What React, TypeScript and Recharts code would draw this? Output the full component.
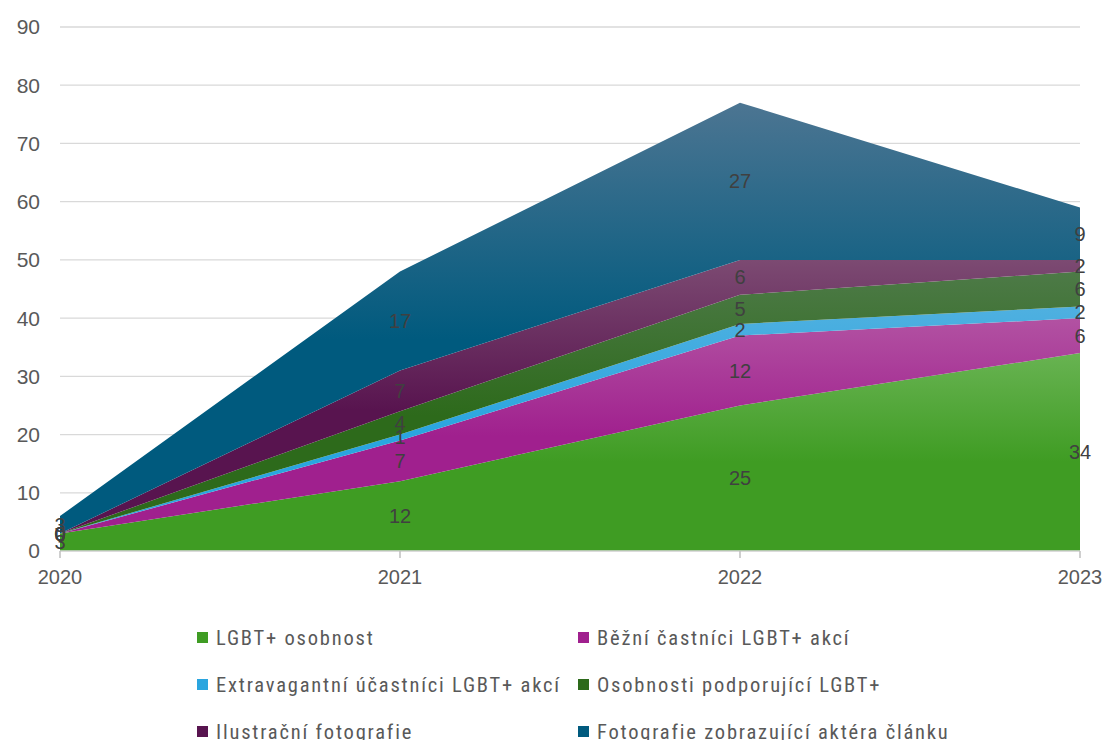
import { AreaChart, Area, XAxis, YAxis, CartesianGrid, LabelList } from "recharts";

const years = ["2020", "2021", "2022", "2023"];
const osobnost = [3, 12, 25, 34];
const bezni = [0, 7, 12, 6];
const extravagantni = [0, 1, 2, 2];
const podporujici = [0, 4, 5, 6];
const ilustracni = [0, 7, 6, 2];
const aktera = [3, 17, 27, 9];
const yTicks = [0, 10, 20, 30, 40, 50, 60, 70, 80, 90];

const series = [
  { key: "osobnost", name: "LGBT+ osobnost", values: osobnost, color: "#3f9c23", top: "#68b352" },
  { key: "bezni", name: "Běžní častníci LGBT+ akcí", values: bezni, color: "#a0208e", top: "#b252a2" },
  { key: "extra", name: "Extravagantní účastníci LGBT+ akcí", values: extravagantni, color: "#2aa5df", top: "#4fb0e0" },
  { key: "podpora", name: "Osobnosti podporující LGBT+", values: podporujici, color: "#2d6a1b", top: "#4d7a47" },
  { key: "ilustr", name: "Ilustrační fotografie", values: ilustracni, color: "#58144f", top: "#7c4a72" },
  { key: "aktera", name: "Fotografie zobrazující aktéra článku", values: aktera, color: "#005a7e", top: "#4c7592" },
];

const data = years.map((year, i) => {
  const row: Record<string, string | number> = { year };
  series.forEach((s) => (row[s.key] = s.values[i]));
  return row;
});

const PLOT_BOTTOM = 551;

// label sits in the middle of its band, using the band top that recharts gives
function bandLabel(si: number) {
  return (props: any) => {
    const { x, y, index } = props;
    if (x == null || y == null || index == null) return null;
    const v = series[si].values[index];
    let cum = 0;
    for (let j = 0; j <= si; j++) cum += series[j].values[index];
    if (cum === 0) return null;
    const k = (PLOT_BOTTOM - y) / cum;
    const cy = PLOT_BOTTOM - (cum - v / 2) * k;
    return (
      <text
        x={x}
        y={cy}
        textAnchor="middle"
        dominantBaseline="central"
        fontSize={20}
        fill="#404040"
        fontFamily="Liberation Sans, Arial, sans-serif"
      >
        {v}
      </text>
    );
  };
}

const legendRows = [
  [series[0], series[1]],
  [series[2], series[3]],
  [series[4], series[5]],
];

export default function App() {
  return (
    <div style={{ position: "absolute", left: 0, top: 0, width: 1107, height: 740, overflow: "hidden", background: "#fff" }}>
      <AreaChart width={1107} height={600} data={data} margin={{ top: 27, right: 27, left: 0, bottom: 9 }}>
        <defs>
          {series.map((s) => (
            <linearGradient key={s.key} id={"g-" + s.key} x1="0" y1="0" x2="0" y2="1">
              <stop offset="0%" stopColor={s.top} />
              <stop offset="55%" stopColor={s.color} />
              <stop offset="100%" stopColor={s.color} />
            </linearGradient>
          ))}
        </defs>
        <CartesianGrid vertical={false} stroke="#d9d9d9" strokeWidth={1.3} />
        <XAxis
          dataKey="year"
          height={40}
          axisLine={{ stroke: "#d9d9d9", strokeWidth: 1.5 }}
          tickLine={{ stroke: "#bfbfbf", strokeWidth: 1.5 }}
          tickSize={7}
          tickMargin={12}
          tick={{ fontSize: 20, fill: "#595959", fontFamily: "Liberation Sans, Arial, sans-serif" }}
        />
        <YAxis
          width={60}
          domain={[0, 90]}
          ticks={yTicks}
          axisLine={false}
          tickLine={false}
          tick={{ fontSize: 21, fill: "#595959", fontFamily: "Liberation Sans, Arial, sans-serif", dx: -12 }}
        />
        {series.map((s, si) => (
          <Area
            key={s.key}
            type="linear"
            dataKey={s.key}
            name={s.name}
            stackId="1"
            stroke="none"
            fill={"url(#g-" + s.key + ")"}
            fillOpacity={1}
            isAnimationActive={false}
            dot={false}
            activeDot={false}
          >
            <LabelList dataKey={s.key} content={bandLabel(si)} />
          </Area>
        ))}
      </AreaChart>
      <div
        style={{
          position: "absolute",
          top: 614,
          left: 197,
          fontFamily: "Roboto Condensed, Liberation Sans Narrow, Liberation Sans, sans-serif",
          fontSize: 20.5,
          letterSpacing: 1.8,
          color: "#595959",
        }}
      >
        {legendRows.map((row, ri) => (
          <div key={ri} style={{ display: "flex", height: 47, alignItems: "center" }}>
            {row.map((s, ci) => (
              <div key={s.key} style={{ display: "flex", alignItems: "center", width: ci === 0 ? 381 : 420 }}>
                <span style={{ display: "inline-block", width: 11, height: 11, background: s.color, marginRight: 8 }} />
                <span style={{ whiteSpace: "nowrap" }}>{s.name}</span>
              </div>
            ))}
          </div>
        ))}
      </div>
    </div>
  );
}
